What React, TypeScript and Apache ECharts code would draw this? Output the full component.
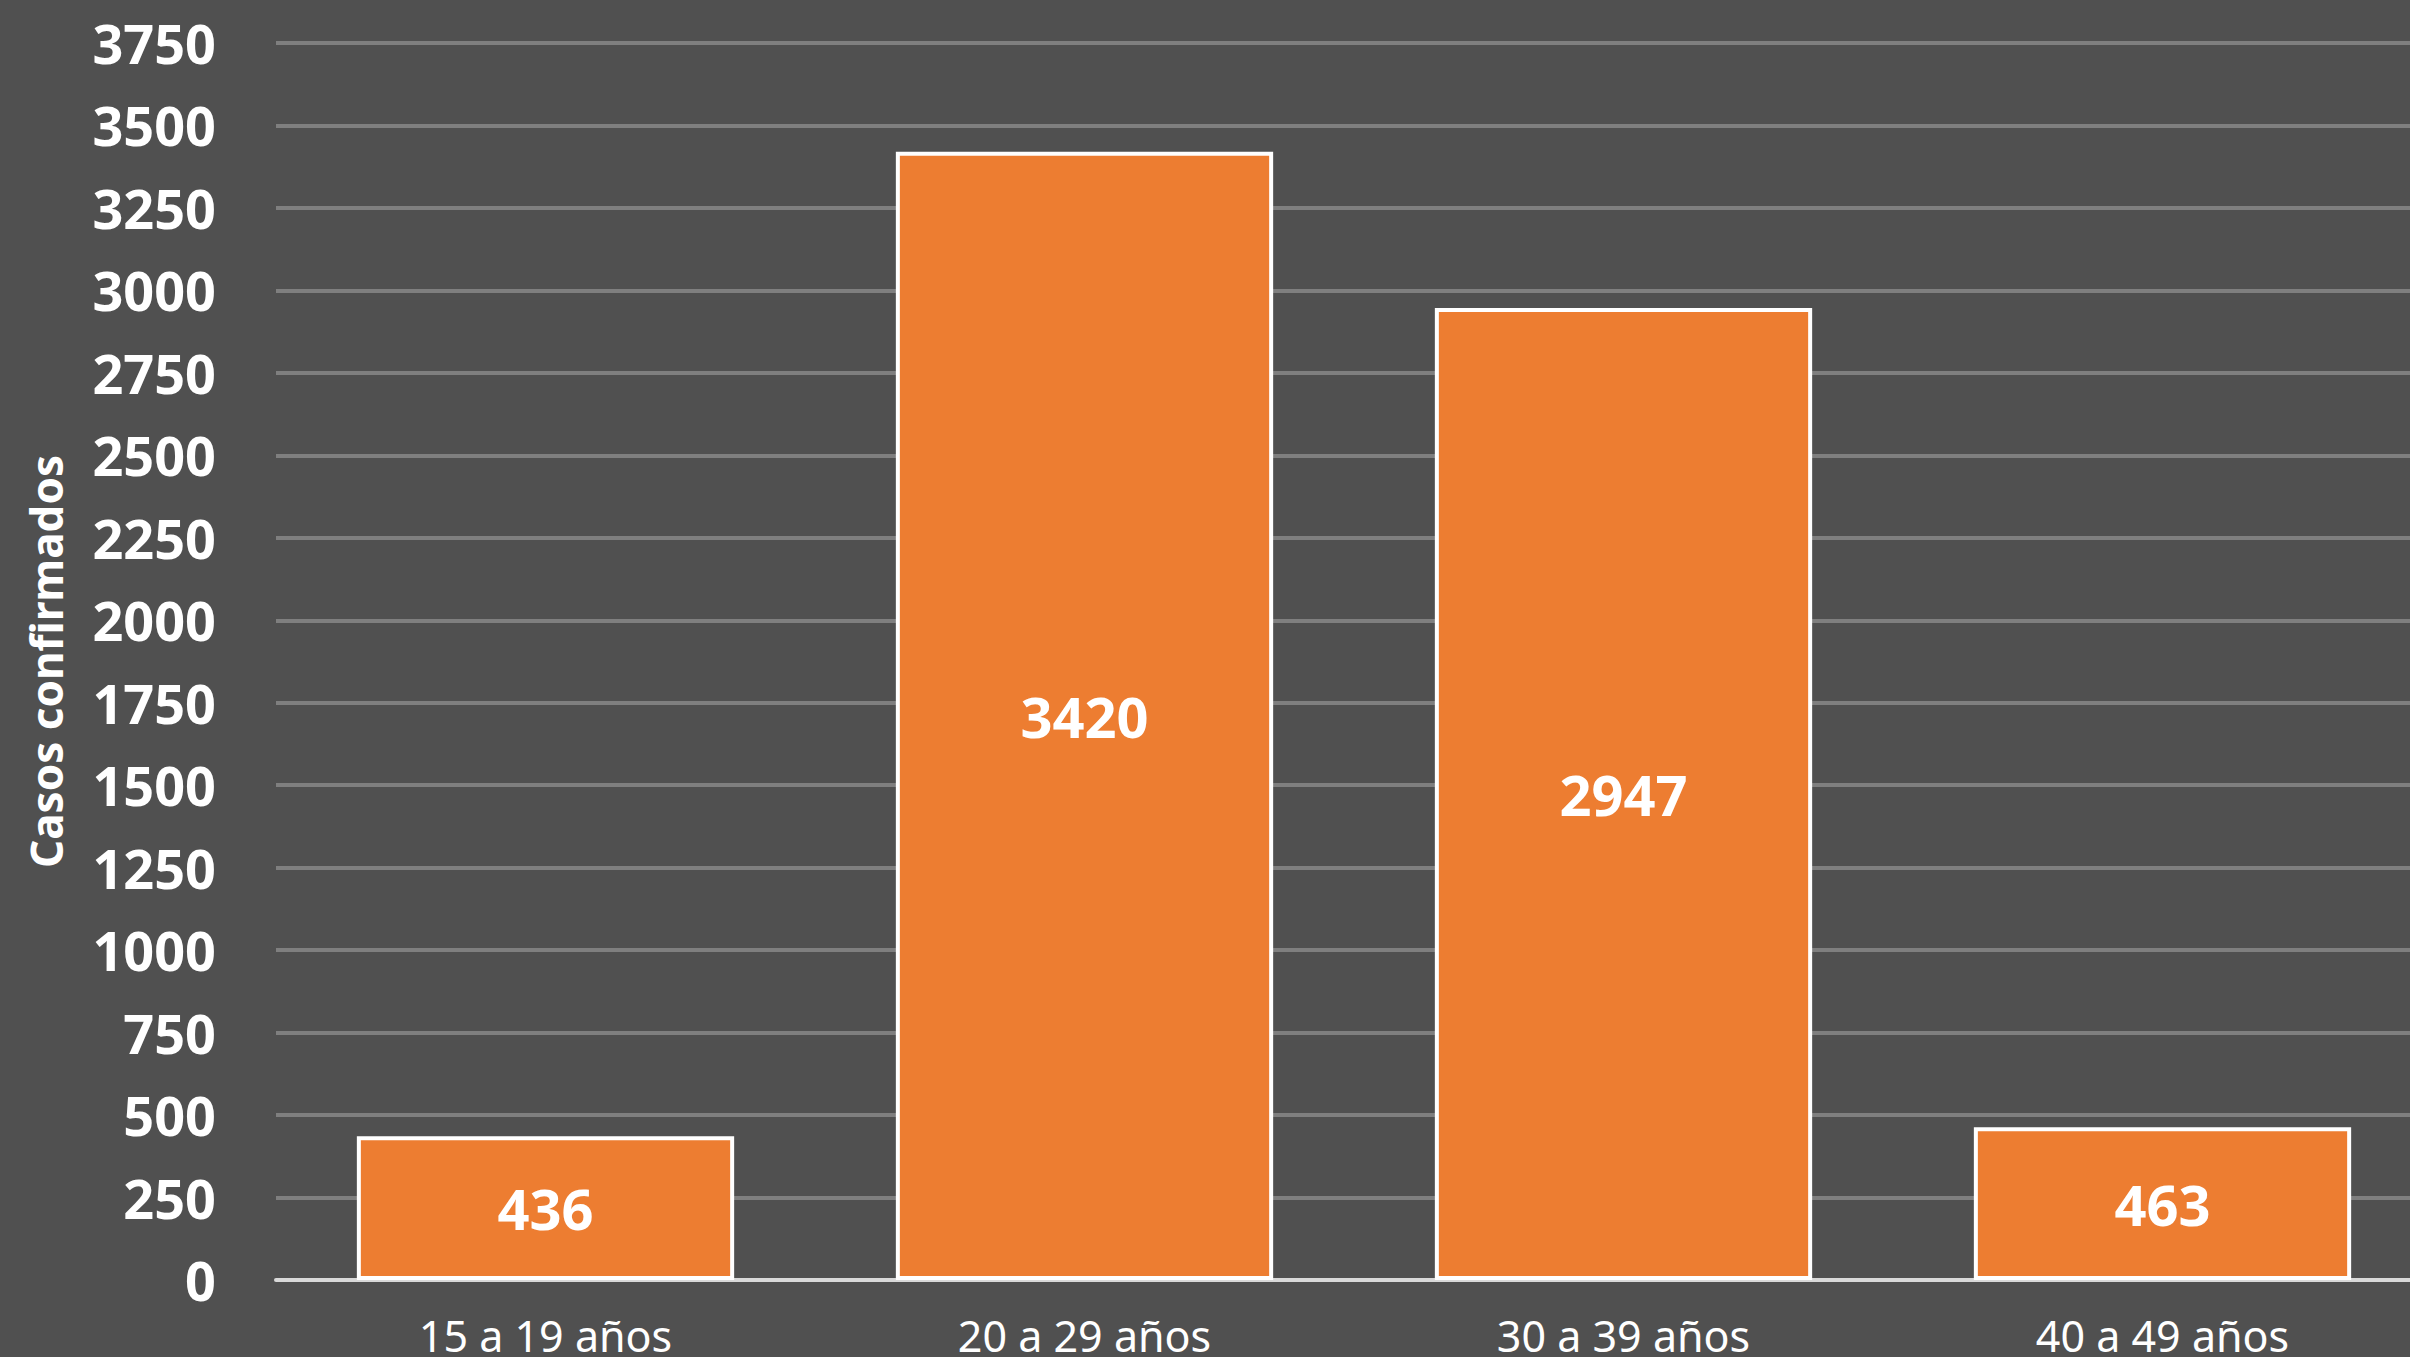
import React, { useEffect, useRef } from "react";
import * as echarts from "echarts";

const categories = ["15 a 19 años", "20 a 29 años", "30 a 39 años", "40 a 49 años"];
const casos = [436, 3420, 2947, 463];
const yTitle = "Casos confirmados";
const yMin = 0;
const yMax = 3750;
const yStep = 250;

export default function App() {
  const ref = useRef<HTMLDivElement>(null);
  useEffect(() => {
    if (!ref.current) return;
    const chart = echarts.init(ref.current, null, { renderer: "svg" });
    const font = "'Noto Sans', sans-serif";
    chart.setOption({
      animation: false,
      backgroundColor: "#505050",
      grid: { left: 276, right: 0, top: 43, bottom: 77, containLabel: false },
      xAxis: {
        type: "category",
        data: categories,
        axisLine: { show: true, lineStyle: { color: "#d9d9d9", width: 4 } },
        axisTick: { show: false },
        axisLabel: { color: "#ffffff", fontFamily: font, fontSize: 43, margin: 34 },
        splitLine: { show: false },
      },
      yAxis: {
        type: "value",
        min: yMin,
        max: yMax,
        interval: yStep,
        name: yTitle,
        nameLocation: "middle",
        nameRotate: 90,
        nameGap: 208,
        nameTextStyle: { color: "#ffffff", fontFamily: font, fontSize: 44, fontWeight: "bold" },
        axisLine: { show: false },
        axisTick: { show: false },
        axisLabel: {
          color: "#ffffff",
          fontFamily: font,
          fontSize: 54,
          fontWeight: "bold",
          margin: 60,
          formatter: (v: number) => String(v),
        },
        splitLine: { show: true, lineStyle: { color: "#7f7f7f", width: 4 } },
      },
      series: [
        {
          type: "bar",
          data: casos,
          barCategoryGap: "30%",
          itemStyle: { color: "#ED7D31", borderColor: "#ffffff", borderWidth: 4 },
          label: {
            show: true,
            position: "inside",
            color: "#ffffff",
            fontFamily: font,
            fontSize: 56,
            fontWeight: "bold",
          },
        },
      ],
    });
    return () => chart.dispose();
  }, []);
  return (
    <div
      ref={ref}
      style={{ position: "fixed", left: 0, top: 0, width: 2432, height: 1357 }}
    />
  );
}
